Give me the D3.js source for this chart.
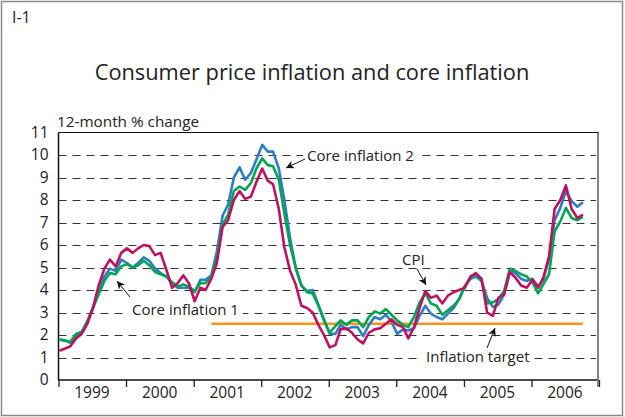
<!DOCTYPE html>
<html>
<head>
  <meta charset="utf-8">
  <title>Consumer price inflation and core inflation</title>
  <style>
    body { margin: 0; background: #fff; }
    svg { display: block; font-family: "Open Sans", sans-serif; }
    .grid line { stroke: #333; stroke-width: 1; stroke-dasharray: 8 6; }
    .lbl { fill: #222; }
  </style>
</head>
<body>
<div id="container"></div>
<script src="https://cdn.jsdelivr.net/npm/d3@7"></script>
<script>
//******* Data: 12-month % change, monthly Jan 1999 - Oct 2006 *******
var startYear = 1999, startMonth = 0;
var cpi = [
  1.3, 1.4, 1.5, 1.85, 2.05, 2.5, 3.2, 4.2, 4.95, 5.35, 5.05, 5.65,
  5.85, 5.65, 5.85, 6.0, 5.95, 5.55, 5.65, 4.9, 4.1, 4.3, 4.65, 4.3,
  3.5, 4.1, 4.0, 4.5, 5.2, 6.8, 7.1, 8.0, 8.4, 8.05, 8.15, 8.8,
  9.4, 8.85, 8.7, 7.6, 5.9, 4.85, 4.25, 3.3, 3.2, 3.0, 2.45, 2.0,
  1.45, 1.55, 2.25, 2.3, 2.1, 1.8, 1.63, 2.1, 2.25, 2.3, 2.5, 2.7,
  2.45, 2.35, 1.85, 2.35, 3.2, 3.95, 3.65, 3.75, 3.4, 3.75, 3.9, 4.0,
  4.1, 4.6, 4.75, 4.5, 3.0, 2.85, 3.65, 3.8, 4.8, 4.55, 4.2, 4.1,
  4.45, 4.1, 4.55, 5.5, 7.6, 8.0, 8.65, 7.6, 7.2, 7.35
];
var core1 = [
  1.8, 1.75, 1.7, 2.05, 2.15, 2.6, 3.2, 3.8, 4.4, 4.75, 4.7, 5.05,
  5.15, 5.0, 5.1, 5.3, 5.1, 4.8, 4.7, 4.6, 4.35, 4.15, 4.25, 4.15,
  3.95, 4.3, 4.3, 4.6, 5.4, 6.9, 7.35, 8.4, 8.6, 8.45, 8.75, 9.4,
  9.85, 9.55, 9.5, 8.9, 7.4, 6.0, 5.0, 4.2, 3.9, 3.85, 3.3, 2.65,
  2.1, 2.4, 2.65, 2.45, 2.65, 2.65, 2.35, 2.8, 3.05, 2.95, 3.15, 2.9,
  2.65, 2.45, 2.35, 2.8, 3.45, 3.85, 3.4, 3.3, 2.9, 3.1, 3.3, 3.6,
  4.15, 4.6, 4.7, 4.45, 3.4, 3.45, 3.6, 3.95, 4.95, 4.85, 4.7, 4.6,
  4.35, 3.85, 4.25, 4.7, 6.6, 7.05, 7.65, 7.2, 7.1, 7.25
];
var core2 = [
  1.8, 1.75, 1.65, 1.95, 2.1, 2.6, 3.2, 3.9, 4.6, 4.95, 4.85, 5.35,
  5.2, 5.0, 5.2, 5.45, 5.3, 4.95, 4.75, 4.6, 4.3, 4.1, 4.1, 4.1,
  3.9, 4.45, 4.45, 4.65, 5.7, 7.3, 7.8, 9.0, 9.45, 8.9, 9.2, 9.8,
  10.45, 10.15, 10.15, 9.4, 8.0, 6.3, 5.0, 4.2, 3.95, 4.0, 3.35, 2.7,
  2.05, 2.05, 2.45, 2.25, 2.35, 2.35, 1.95, 2.45, 2.8, 2.7, 2.9, 2.6,
  2.05, 2.25, 2.2, 2.3, 2.85, 3.3, 2.95, 2.8, 2.7, 2.95, 3.2, 3.6,
  4.2, 4.5, 4.6, 4.4, 3.65, 3.25, 3.35, 3.8, 4.85, 4.75, 4.5, 4.4,
  4.5, 4.15, 4.45, 5.4, 7.1, 7.65, 8.4, 7.95, 7.7, 7.9
];
// inflation target, 2.5% from April 2001 (month index 27)
var targetValue = 2.5, targetStart = 27;
var years = [1999, 2000, 2001, 2002, 2003, 2004, 2005, 2006];
var yTicks = [0, 1, 2, 3, 4, 5, 6, 7, 8, 9, 10, 11];

const width = 625, height = 417;
const plot = { left: 58.5, right: 599, top: 132.5, bottom: 380 };

var svg = d3.select("#container")
  .append("svg")
  .attr("width", width)
  .attr("height", height);

//******* Scales *******
var x = d3.scaleTime()
  .domain([new Date(1999, 0, 1), new Date(2007, 0, 1)])
  .range([plot.left, plot.right]);
var y = d3.scaleLinear()
  .domain([0, 11])
  .range([plot.bottom, plot.top]);

// month index -> date (drawn a few days into the month)
function monthDate(i) { return new Date(startYear, startMonth + i, 6); }

//******* Outer frame and headings *******
svg.append("rect")
  .attr("x", 1.5).attr("y", 1.5)
  .attr("width", width - 4).attr("height", height - 3)
  .attr("fill", "none").attr("stroke", "#8a8a8a").attr("stroke-width", 1.5);

svg.append("text").attr("class", "lbl")
  .attr("x", 12).attr("y", 23)
  .style("font-size", "16px")
  .text("I-1");

svg.append("text").attr("class", "lbl")
  .attr("x", 312).attr("y", 80)
  .attr("text-anchor", "middle")
  .style("font-size", "21.8px")
  .text("Consumer price inflation and core inflation");

svg.append("text").attr("class", "lbl")
  .attr("x", 57).attr("y", 127)
  .style("font-size", "15.3px")
  .text("12-month % change");

//******* Grid lines *******
svg.append("g").attr("class", "grid")
  .selectAll("line")
  .data(yTicks.filter(function(d) { return d > 0 && d < 11; }))
  .join("line")
  .attr("x1", plot.left).attr("x2", plot.right - 3)
  .attr("y1", function(d) { return Math.round(y(d)) + 0.5; })
  .attr("y2", function(d) { return Math.round(y(d)) + 0.5; });

//******* Axes *******
var yAxis = svg.append("g")
  .attr("transform", `translate(${plot.left}, 0)`)
  .call(d3.axisLeft(y).tickValues(yTicks).tickSize(0).tickPadding(10));
yAxis.select(".domain").remove();
yAxis.selectAll("text")
  .style("font-size", "15.5px").style("font-family", "Open Sans, sans-serif")
  .attr("fill", "#222");

var yearStarts = d3.range(1999, 2008).map(function(yr) { return new Date(yr, 0, 1); });
var xAxis = svg.append("g")
  .attr("transform", `translate(0, ${plot.bottom})`)
  .call(d3.axisBottom(x).tickValues(yearStarts).tickSize(7).tickFormat(""));
xAxis.select(".domain").remove();
xAxis.selectAll("line").attr("stroke", "#222").attr("stroke-width", 1.3);

svg.append("g")
  .selectAll("text")
  .data(years)
  .join("text").attr("class", "lbl")
  .attr("x", function(d) { return x(new Date(d, 6, 1)); })
  .attr("y", 398)
  .attr("text-anchor", "middle")
  .style("font-size", "15.5px")
  .text(function(d) { return d; });

// plot frame
svg.append("line")
  .attr("x1", plot.left).attr("x2", plot.right)
  .attr("y1", plot.top).attr("y2", plot.top)
  .attr("stroke", "#111").attr("stroke-width", 1.2);
svg.append("line")
  .attr("x1", plot.left).attr("x2", plot.right)
  .attr("y1", plot.bottom).attr("y2", plot.bottom)
  .attr("stroke", "#111").attr("stroke-width", 1.5);
svg.append("line")
  .attr("x1", plot.left).attr("x2", plot.left)
  .attr("y1", plot.top).attr("y2", plot.bottom)
  .attr("stroke", "#111").attr("stroke-width", 1.5);
svg.append("line")
  .attr("x1", plot.right - 1).attr("x2", plot.right - 1)
  .attr("y1", plot.top).attr("y2", plot.bottom + 7)
  .attr("stroke", "#777").attr("stroke-width", 1.8);

//******* Annotation labels (knocked out of the grid) *******
var notes = [
  { text: "Core inflation 2", tx: 307, ty: 161, x1: 305, y1: 159, x2: 286, y2: 168 },
  { text: "Core inflation 1", tx: 132, ty: 315, x1: 130, y1: 297, x2: 117, y2: 281 },
  { text: "CPI", tx: 402, ty: 265, x1: 417, y1: 269, x2: 426, y2: 285 },
  { text: "Inflation target", tx: 426, ty: 362, x1: 487, y1: 348, x2: 495, y2: 328 }
];
var noteG = svg.append("g");
var noteText = noteG.selectAll("text")
  .data(notes)
  .join("text").attr("class", "lbl")
  .attr("x", function(d) { return d.tx; })
  .attr("y", function(d) { return d.ty; })
  .style("font-size", "15px")
  .text(function(d) { return d.text; });
noteText.each(function(d) {
  var b = this.getBBox();
  noteG.insert("rect", "text")
    .attr("x", b.x - 4).attr("y", b.y + 1)
    .attr("width", b.width + 8).attr("height", b.height - 2)
    .attr("fill", "#fff");
});

//******* Series lines *******
var line = d3.line()
  .x(function(d) { return x(monthDate(d.i)); })
  .y(function(d) { return y(d.v); });

function toPoints(arr) { return arr.map(function(v, i) { return { i: i, v: v }; }); }

var lastIndex = cpi.length - 1;
svg.append("path")
  .attr("d", line([{ i: targetStart, v: targetValue }, { i: lastIndex, v: targetValue }]))
  .attr("fill", "none").attr("stroke", "#f7941d").attr("stroke-width", 2.6);

var series = [
  { name: "core2", values: core2, color: "#2e7cc4" },
  { name: "core1", values: core1, color: "#00a651" },
  { name: "cpi", values: cpi, color: "#c1105e" }
];
svg.append("g")
  .selectAll("path")
  .data(series)
  .join("path")
  .attr("d", function(d) { return line(toPoints(d.values)); })
  .attr("fill", "none")
  .attr("stroke", function(d) { return d.color; })
  .attr("stroke-width", 2.6)
  .attr("stroke-linejoin", "round");

//******* Arrows *******
svg.append("defs").append("marker")
  .attr("id", "arrow")
  .attr("viewBox", "0 0 10 10")
  .attr("refX", 10).attr("refY", 5)
  .attr("markerUnits", "userSpaceOnUse")
  .attr("markerWidth", 10).attr("markerHeight", 8)
  .attr("orient", "auto")
  .append("path")
  .attr("d", "M0,0 L10,5 L0,10 L3,5 Z")
  .attr("fill", "#111");

svg.append("g")
  .selectAll("line")
  .data(notes)
  .join("line")
  .attr("x1", function(d) { return d.x1; })
  .attr("y1", function(d) { return d.y1; })
  .attr("x2", function(d) { return d.x2; })
  .attr("y2", function(d) { return d.y2; })
  .attr("stroke", "#111").attr("stroke-width", 1)
  .attr("marker-end", "url(#arrow)");
</script>
</body>
</html>
